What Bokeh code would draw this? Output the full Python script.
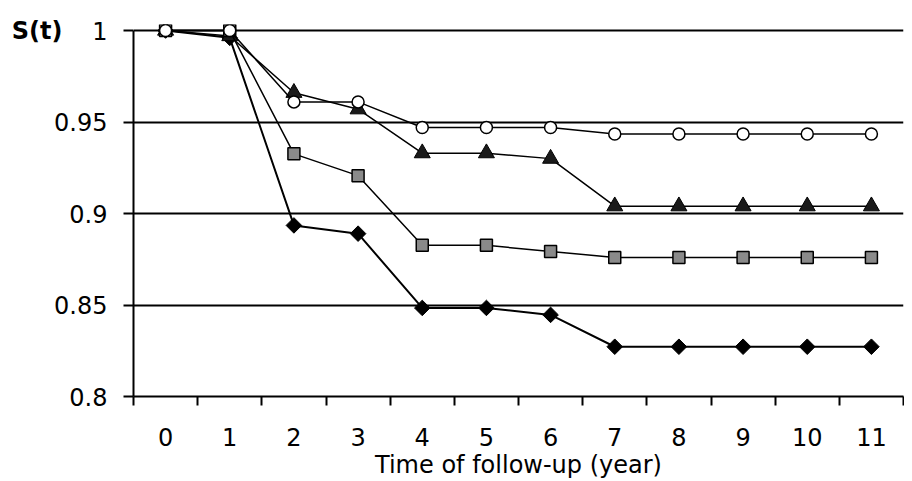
import math
from bokeh.plotting import figure
from bokeh.models import Range1d, FixedTicker, NumeralTickFormatter, LinearAxis
from bokeh.embed import file_html
from bokeh.resources import INLINE

years = [0, 1, 2, 3, 4, 5, 6, 7, 8, 9, 10, 11]
s_circle = [1.0, 1.0, 0.961, 0.961, 0.947, 0.947, 0.947, 0.9435, 0.9435, 0.9435, 0.9435, 0.9435]
s_triangle = [1.0, 0.997, 0.966, 0.957, 0.933, 0.933, 0.930, 0.904, 0.904, 0.904, 0.904, 0.904]
s_square = [1.0, 1.0, 0.9326, 0.9207, 0.8826, 0.8826, 0.8793, 0.876, 0.876, 0.876, 0.876, 0.876]
s_diamond = [1.0, 0.996, 0.8935, 0.889, 0.8484, 0.8484, 0.8446, 0.8272, 0.8272, 0.8272, 0.8272, 0.8272]
y_ticks = [0.8, 0.85, 0.9, 0.95, 1.0]
x_label = "Time of follow-up (year)"
y_label = "S(t)"

FONT = "DejaVu Sans"

p = figure(width=904, height=481, output_backend="svg", toolbar_location=None,
           x_range=Range1d(-0.5, 11.5), y_range=Range1d(0.8, 1.0033),
           min_border_left=133, min_border_right=1, min_border_top=24, min_border_bottom=83)
p.outline_line_color = None
p.xgrid.grid_line_color = None
p.ygrid.grid_line_color = "black"
p.ygrid.grid_line_width = 2
p.ygrid.ticker = FixedTicker(ticks=y_ticks)

# x axis: labels at categories, tick marks between categories
xa = p.xaxis[0]
xa.ticker = FixedTicker(ticks=years, minor_ticks=[y - 0.5 for y in years] + [11.5])
xa.major_tick_line_color = None
xa.minor_tick_line_color = "black"
xa.minor_tick_line_width = 2
xa.minor_tick_out = 9
xa.minor_tick_in = 0
xa.axis_line_color = "black"
xa.axis_line_width = 2
xa.major_label_text_font = FONT
xa.major_label_text_font_size = "24px"
xa.major_label_text_color = "black"
xa.major_label_standoff = 22
xa.axis_label = x_label
xa.axis_label_text_font = FONT
xa.axis_label_text_font_size = "24px"
xa.axis_label_text_font_style = "normal"
xa.axis_label_text_color = "black"
xa.axis_label_standoff = 2

ya = p.yaxis[0]
ya.ticker = FixedTicker(ticks=y_ticks, minor_ticks=[])
ya.bounds = (0.8, 1.0)
ya.formatter = NumeralTickFormatter(format="0.[00]")
ya.axis_line_color = "black"
ya.axis_line_width = 2
ya.major_tick_line_color = "black"
ya.major_tick_line_width = 2
ya.major_tick_out = 10
ya.major_tick_in = 0
ya.minor_tick_line_color = None
ya.major_label_text_font = FONT
ya.major_label_text_font_size = "24px"
ya.major_label_text_color = "black"
ya.major_label_standoff = 16

# outer left axis carrying the "S(t)" caption next to the top tick
cap = LinearAxis(ticker=FixedTicker(ticks=[1.0], minor_ticks=[]),
                 major_label_overrides={1: y_label})
cap.axis_line_color = None
cap.major_tick_line_color = None
cap.minor_tick_line_color = None
cap.major_tick_out = 0
cap.major_tick_in = 0
cap.major_label_standoff = -11
cap.major_label_text_font = FONT
cap.major_label_text_font_size = "24px"
cap.major_label_text_font_style = "bold"
cap.major_label_text_color = "black"
p.add_layout(cap, "left")

# series
p.line(years, s_diamond, line_color="black", line_width=2)
p.scatter(years, s_diamond, marker="square", angle=math.pi / 4, size=11,
          fill_color="black", line_color="black")

p.line(years, s_triangle, line_color="black", line_width=1.5)
p.scatter(years, s_triangle, marker="triangle", size=16, fill_color="#1a1a1a", line_color="black")

p.line(years, s_square, line_color="black", line_width=1.5)
p.scatter(years, s_square, marker="square", size=12, fill_color="#8a8a8a", line_color="black", line_width=1.5)

p.line(years, s_circle, line_color="black", line_width=1.5)
p.scatter(years, s_circle, marker="circle", size=12, fill_color="white", line_color="black", line_width=1.5)

open("out.html", "w").write(file_html(p, INLINE))
